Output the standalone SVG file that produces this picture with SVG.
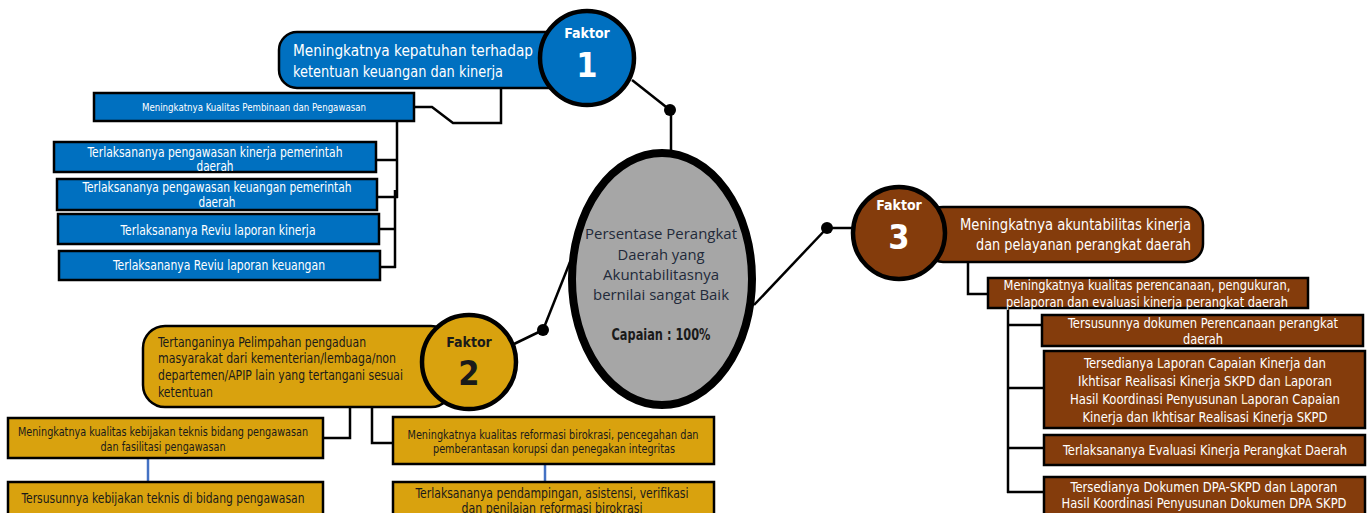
<svg xmlns="http://www.w3.org/2000/svg" width="1371" height="513" viewBox="0 0 1371 513">
<style>
text{font-family:"Liberation Sans Narrow","DejaVu Sans Condensed","Liberation Sans",sans-serif;}
.ln{fill:none;stroke:#000;stroke-width:2.5;}
.bl{fill:none;stroke:#4472C4;stroke-width:2.5;}
.dot{fill:#000;}
.blue{fill:#0070C0;stroke:#000;stroke-width:2.5;}
.gold{fill:#D9A20E;stroke:#000;stroke-width:2.5;}
.brown{fill:#843C0C;stroke:#000;stroke-width:2.5;}
.circ{stroke:#000;stroke-width:4.5;}
.w{fill:#fff;}
.k{fill:#1a1a1a;}
.c{text-anchor:middle;}
.fk{font-weight:bold;font-size:14px;text-anchor:middle;}
.num{font-weight:bold;font-size:34px;text-anchor:middle;}
.t14{font-size:13.5px;}
.t12{font-size:12px;}
.t10{font-size:10px;}
.t16{font-size:15.5px;}
.t15{font-size:14.5px;}
.el{font-family:"Open Sans","Liberation Sans",sans-serif;font-size:14.5px;fill:#222a3a;text-anchor:middle;}
.L{fill:#FFF2CC;}
</style>

<g id="connectors">
  <line class="ln" x1="632" y1="80" x2="670" y2="110"/>
  <line class="ln" x1="671" y1="110" x2="671" y2="152"/>
  <circle class="dot" cx="670" cy="110" r="6"/>
  <line class="ln" x1="570" y1="262" x2="543" y2="330"/>
  <line class="ln" x1="543" y1="330" x2="514" y2="344"/>
  <circle class="dot" cx="543" cy="330" r="6"/>
  <line class="ln" x1="754" y1="305" x2="827" y2="228"/>
  <line class="ln" x1="827" y1="228" x2="854" y2="228"/>
  <circle class="dot" cx="827" cy="228" r="6"/>

  <polyline class="ln" points="501,88 501,123 453,123 432,107 414,107"/>
  <line class="ln" x1="397" y1="121" x2="397" y2="198"/>
  <line class="ln" x1="395" y1="190" x2="395" y2="268"/>
  <line class="ln" x1="376" y1="160" x2="398" y2="160"/>
  <line class="ln" x1="377" y1="197" x2="398" y2="197"/>
  <line class="ln" x1="379" y1="229" x2="396" y2="229"/>
  <line class="ln" x1="380" y1="267" x2="396" y2="267"/>

  <polyline class="ln" points="350,407 350,438 323,438"/>
  <polyline class="ln" points="372,407 372,443 393,443"/>
  <line class="bl" x1="148" y1="458" x2="148" y2="482"/>
  <line class="bl" x1="545" y1="464" x2="545" y2="482"/>

  <polyline class="ln" points="968,262 968,294 989,294"/>
  <line class="ln" x1="1008" y1="293" x2="1008" y2="493"/>
  <line class="ln" x1="1007" y1="325" x2="1043" y2="325"/>
  <line class="ln" x1="1007" y1="388" x2="1045" y2="388"/>
  <line class="ln" x1="1007" y1="448" x2="1045" y2="448"/>
  <line class="ln" x1="1007" y1="492" x2="1045" y2="492"/>
</g>

<g id="center">
  <ellipse cx="662" cy="279" rx="90" ry="126" fill="#A6A6A6" stroke="#000" stroke-width="8"/>
  <text class="el" x="661" y="239" textLength="152" lengthAdjust="spacingAndGlyphs">Persentase Perangkat</text>
  <text class="el" x="661" y="260" textLength="87" lengthAdjust="spacingAndGlyphs">Daerah yang</text>
  <text class="el" x="661" y="280" textLength="116" lengthAdjust="spacingAndGlyphs">Akuntabilitasnya</text>
  <text class="el" x="661" y="300" textLength="136" lengthAdjust="spacingAndGlyphs">bernilai sangat Baik</text>
  <text x="661" y="340" class="c k" style="font-weight:bold;font-size:15px" textLength="99" lengthAdjust="spacingAndGlyphs">Capaian : 100%</text>
</g>

<g id="faktor1-box">
  <rect class="blue" x="279" y="32" width="290" height="56" rx="18"/>
  <text class="w t16" x="293" y="56" textLength="240" lengthAdjust="spacingAndGlyphs">Meningkatnya kepatuhan terhadap</text>
  <text class="w t16" x="293" y="77" textLength="210" lengthAdjust="spacingAndGlyphs">ketentuan keuangan dan kinerja</text>
</g>
<g id="faktor1">
  <circle class="circ" cx="587" cy="58" r="47" fill="#0070C0"/>
  <text class="fk w" x="587" y="38">Faktor</text>
  <text class="num w" x="587" y="77">1</text>
</g>

<g id="f1-pembinaan">
  <rect class="blue" x="94" y="93" width="320" height="28"/>
  <text class="w t10 c" x="254" y="111" textLength="224" lengthAdjust="spacingAndGlyphs">Meningkatnya Kualitas Pembinaan dan Pengawasan</text>
</g>
<g id="f1-kinerja">
  <rect class="blue" x="54" y="142" width="322" height="30"/>
  <text class="w t14 c" x="215" y="157" textLength="255" lengthAdjust="spacingAndGlyphs">Terlaksananya pengawasan kinerja pemerintah</text>
  <text class="w t14 c" x="215" y="171" textLength="37" lengthAdjust="spacingAndGlyphs">daerah</text>
</g>
<g id="f1-keuangan">
  <rect class="blue" x="57" y="179" width="320" height="31"/>
  <text class="w t14 c" x="217" y="192" textLength="269" lengthAdjust="spacingAndGlyphs">Terlaksananya pengawasan keuangan pemerintah</text>
  <text class="w t14 c" x="217" y="207" textLength="37" lengthAdjust="spacingAndGlyphs">daerah</text>
</g>
<g id="f1-reviu-kinerja">
  <rect class="blue" x="58" y="214" width="321" height="30"/>
  <text class="w t14 c" x="218" y="235" textLength="195" lengthAdjust="spacingAndGlyphs">Terlaksananya Reviu laporan kinerja</text>
</g>
<g id="f1-reviu-keuangan">
  <rect class="blue" x="59" y="251" width="321" height="29"/>
  <text class="w t14 c" x="219" y="270" textLength="212" lengthAdjust="spacingAndGlyphs">Terlaksananya Reviu laporan keuangan</text>
</g>

<g id="faktor2-box">
  <rect class="gold" x="143" y="326" width="310" height="81" rx="22"/>
  <text class="k t15" x="158" y="347" textLength="208" lengthAdjust="spacingAndGlyphs">Tertanganinya Pelimpahan pengaduan</text>
  <text class="k t15" x="158" y="363" textLength="238" lengthAdjust="spacingAndGlyphs">masyarakat dari kementerian/lembaga/non</text>
  <text class="k t15" x="158" y="380" textLength="245" lengthAdjust="spacingAndGlyphs">departemen/APIP lain yang tertangani sesuai</text>
  <text class="k t15" x="158" y="397" textLength="55" lengthAdjust="spacingAndGlyphs">ketentuan</text>
</g>
<g id="faktor2">
  <circle class="circ" cx="469" cy="362" r="47" fill="#D9A20E"/>
  <text class="fk k" x="469" y="347">Faktor</text>
  <text class="num k" x="469" y="385">2</text>
</g>

<g id="f2-kebijakan">
  <rect class="gold" x="8" y="418" width="315" height="40"/>
  <text class="k t12 c" x="163" y="436" textLength="290" lengthAdjust="spacingAndGlyphs">Meningkatnya kualitas kebijakan teknis bidang pengawasan</text>
  <text class="k t12 c" x="163" y="451" textLength="125" lengthAdjust="spacingAndGlyphs">dan fasilitasi pengawasan</text>
</g>
<g id="f2-tersusunnya">
  <rect class="gold" x="8" y="482" width="315" height="40"/>
  <text class="k t14 c" x="163" y="503" textLength="283" lengthAdjust="spacingAndGlyphs">Tersusunnya kebijakan teknis di bidang pengawasan</text>
</g>
<g id="f2-reformasi">
  <rect class="gold" x="393" y="417" width="321" height="47"/>
  <text class="k t12 c" x="553" y="439" textLength="291" lengthAdjust="spacingAndGlyphs">Meningkatnya kualitas reformasi birokrasi, pencegahan dan</text>
  <text class="k t12 c" x="554" y="453" textLength="242" lengthAdjust="spacingAndGlyphs">pemberantasan korupsi dan penegakan integritas</text>
</g>
<g id="f2-pendampingan">
  <rect class="gold" x="393" y="482" width="321" height="40"/>
  <text class="k t14 c" x="552" y="498" textLength="273" lengthAdjust="spacingAndGlyphs">Terlaksananya pendampingan, asistensi, verifikasi</text>
  <text class="k t14 c" x="552" y="513" textLength="181" lengthAdjust="spacingAndGlyphs">dan penilaian reformasi birokrasi</text>
</g>

<g id="faktor3-box">
  <rect class="brown" x="925" y="207" width="278" height="55" rx="18"/>
  <text class="w t16" x="1191" y="230" text-anchor="end" textLength="231" lengthAdjust="spacingAndGlyphs">Meningkatnya akuntabilitas kinerja</text>
  <text class="w t16" x="1191" y="250" text-anchor="end" textLength="215" lengthAdjust="spacingAndGlyphs">dan pelayanan perangkat daerah</text>
</g>
<g id="faktor3">
  <circle class="circ" cx="899" cy="233" r="46" fill="#843C0C"/>
  <text class="fk w" x="899" y="210">Faktor</text>
  <text class="num w" x="899" y="249">3</text>
</g>

<g id="f3-kualitas">
  <rect class="brown" x="988" y="278" width="320" height="30"/>
  <text class="w t14 c" x="1147" y="290" textLength="287" lengthAdjust="spacingAndGlyphs">Meningkatnya kualitas perencanaan, pengukuran,</text>
  <text class="w t14 c" x="1147" y="307" textLength="282" lengthAdjust="spacingAndGlyphs">pelaporan dan evaluasi kinerja perangkat daerah</text>
</g>
<g id="f3-dokumen">
  <rect class="brown" x="1042" y="315" width="321" height="31"/>
  <text class="w t14 c" x="1203" y="328" textLength="270" lengthAdjust="spacingAndGlyphs">Tersusunnya dokumen Perencanaan perangkat</text>
  <text class="w t14 c" x="1203" y="344" textLength="40" lengthAdjust="spacingAndGlyphs">daerah</text>
</g>
<g id="f3-laporan">
  <rect class="brown" x="1044" y="351" width="321" height="77"/>
  <text class="w t14 c" x="1205" y="368" textLength="242" lengthAdjust="spacingAndGlyphs">Tersedianya <tspan class="L">L</tspan>aporan Capaian Kinerja dan</text>
  <text class="w t14 c" x="1205" y="386" textLength="254" lengthAdjust="spacingAndGlyphs">Ikhtisar Realisasi Kinerja SKPD dan <tspan class="L">L</tspan>aporan</text>
  <text class="w t14 c" x="1205" y="404" textLength="270" lengthAdjust="spacingAndGlyphs">Hasil Koordinasi Penyusunan <tspan class="L">L</tspan>aporan Capaian</text>
  <text class="w t14 c" x="1205" y="422" textLength="245" lengthAdjust="spacingAndGlyphs">Kinerja dan Ikhtisar Realisasi Kinerja SKPD</text>
</g>
<g id="f3-evaluasi">
  <rect class="brown" x="1044" y="435" width="321" height="30"/>
  <text class="w t14 c" x="1205" y="455" textLength="284" lengthAdjust="spacingAndGlyphs">Terlaksananya Evaluasi Kinerja Perangkat Daerah</text>
</g>
<g id="f3-dpa">
  <rect class="brown" x="1044" y="477" width="321" height="45"/>
  <text class="w t14 c" x="1204" y="492" textLength="267" lengthAdjust="spacingAndGlyphs">Tersedianya Dokumen DPA-SKPD dan <tspan class="L">L</tspan>aporan</text>
  <text class="w t14 c" x="1204" y="508" textLength="285" lengthAdjust="spacingAndGlyphs">Hasil Koordinasi Penyusunan Dokumen DPA SKPD</text>
</g>
</svg>
